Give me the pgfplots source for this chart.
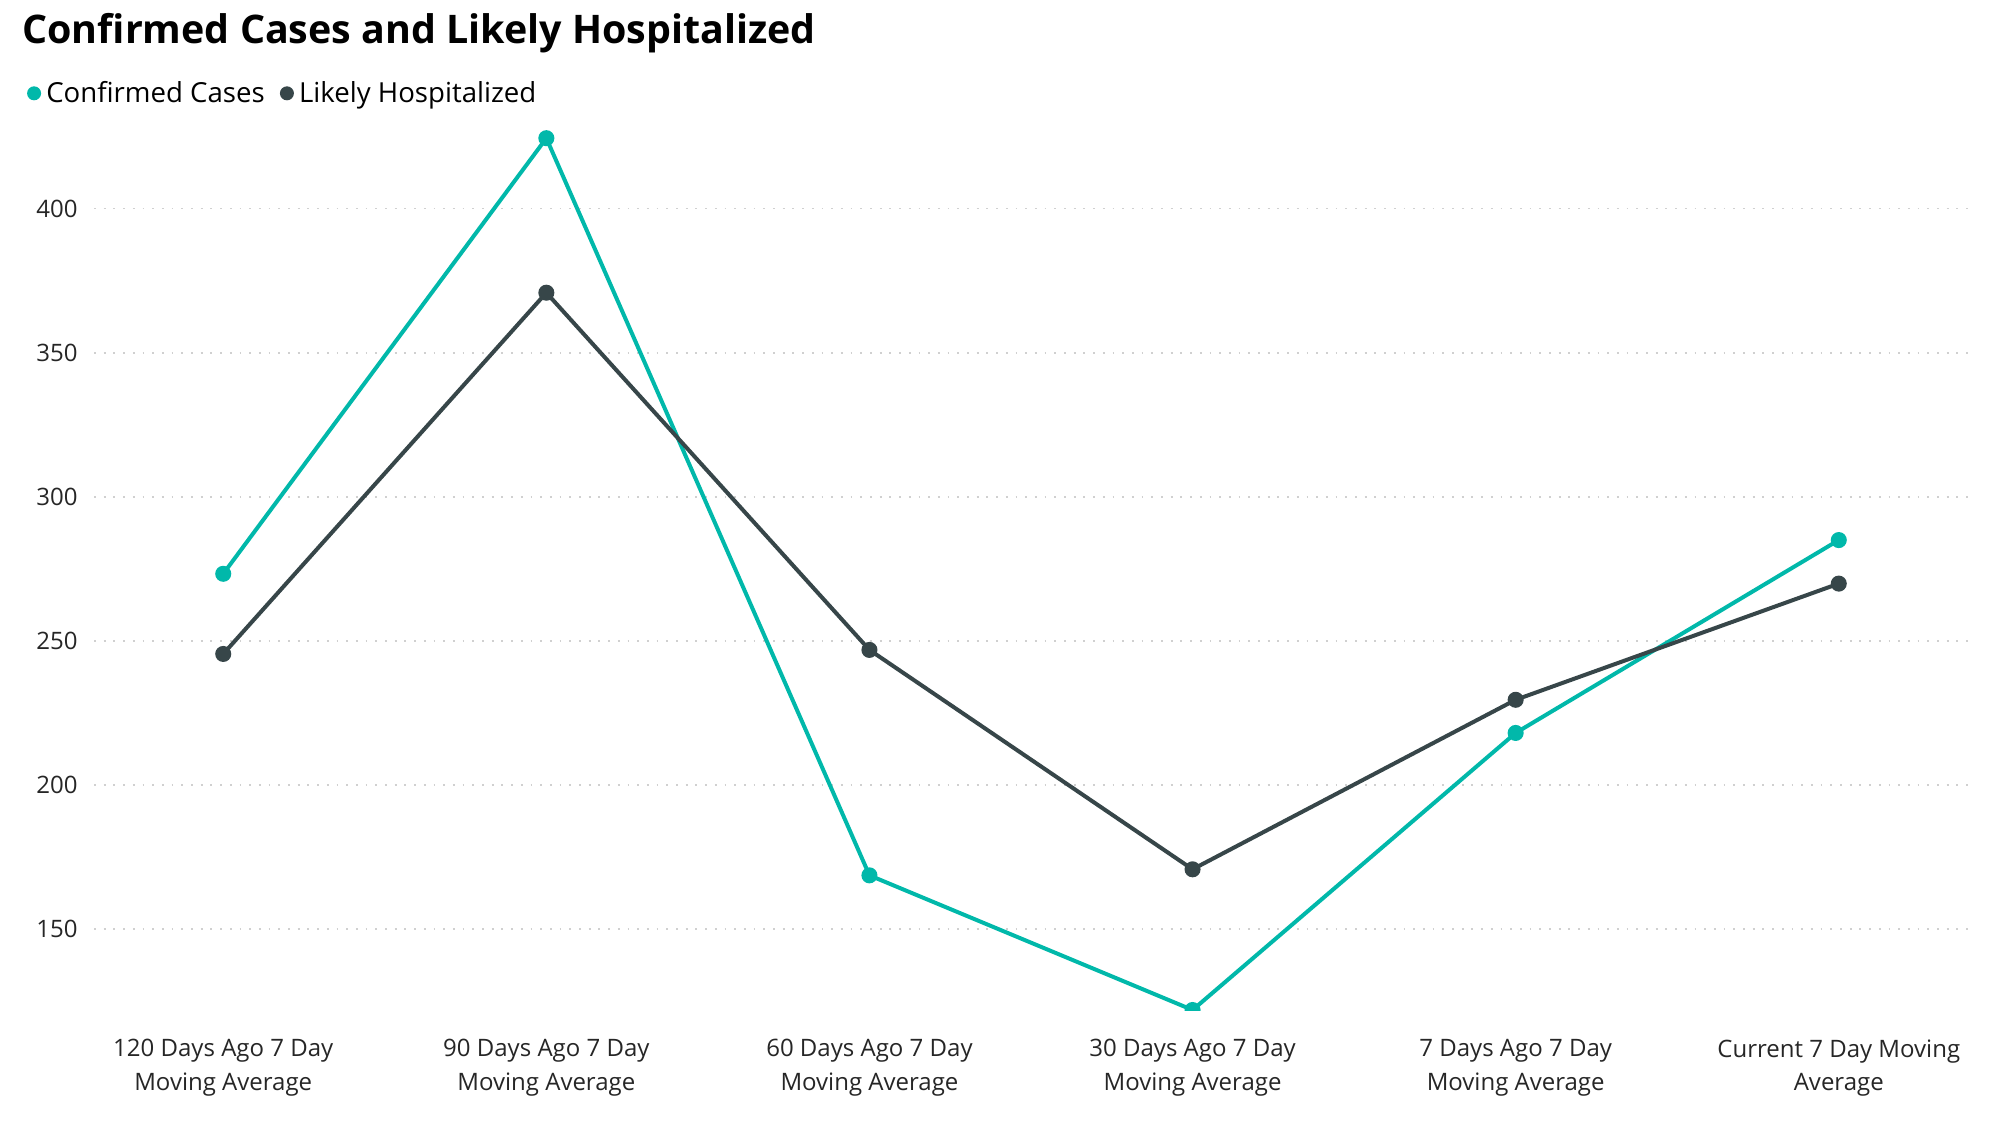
\documentclass[border=0pt]{standalone}
\usepackage{fontspec}
\setmainfont{Open Sans}
\usepackage{pgfplots}
\pgfplotsset{compat=1.18}
\definecolor{cteal}{HTML}{01B8AA}
\definecolor{cdark}{HTML}{374649}
\definecolor{cgrid}{HTML}{D0D0D0}
\begin{document}
\begin{tikzpicture}
\path[use as bounding box] (0pt,0pt) rectangle (1000pt,570.5pt);
\node[anchor=base west, inner sep=0pt, font=\fontsize{19.7}{22}\selectfont\bfseries] at (11pt,548.5pt) {Confirmed Cases and Likely Hospitalized};
\begin{axis}[
  at={(47pt,65.5pt)}, anchor=south west,
  scale only axis, width=937pt, height=439.65pt,
  xmin=-0.4, xmax=5.4, ymin=122, ymax=427,
  xtick={0,1,2,3,4,5},
  xticklabels={{120 Days Ago 7 Day\\Moving Average},{90 Days Ago 7 Day\\Moving Average},{60 Days Ago 7 Day\\Moving Average},{30 Days Ago 7 Day\\Moving Average},{7 Days Ago 7 Day\\Moving Average},{Current 7 Day Moving\\Average}},
  ytick={150,200,250,300,350,400},
  /pgf/number format/assume math mode=true,
  axis line style={draw=none},
  major tick length=0pt,
  tick style={draw=none},
  ymajorgrids,
  grid style={cgrid, line width=0.9pt, dash pattern=on 0.9pt off 3.95pt},
  ticklabel style={font=\fontsize{12}{16.7}\selectfont, text=black!85},
  yticklabel style={inner sep=0pt, anchor=east, xshift=-8pt},
  xticklabel style={align=center, inner sep=0pt, anchor=north, yshift=-14.5pt},
  clip marker paths=true,
  legend columns=2,
  legend style={at={(-0.0357,1.0425)}, anchor=west, draw=none, fill=none, inner sep=0pt, outer sep=0pt,
    font=\fontsize{13.8}{16}\selectfont,
    nodes={inner sep=2.6pt},
    /tikz/every even column/.append style={column sep=5pt}},
  legend cell align=left,
  legend image code/.code={\fill[#1,draw=none] (3.5pt,0pt) circle (3.5pt);},
]
\addplot[color=cteal, line width=2pt, mark=*, mark size=3pt, mark options={solid}] coordinates {
 (0,273.3) (1,424.4) (2,168.7) (3,122.0) (4,218.1) (5,285.0)
};
\addlegendentry{Confirmed Cases}
\addplot[color=cdark, line width=2pt, mark=*, mark size=3pt, mark options={solid}] coordinates {
 (0,245.5) (1,370.8) (2,246.9) (3,170.8) (4,229.6) (5,269.9)
};
\addlegendentry{Likely Hospitalized}
\end{axis}
\end{tikzpicture}
\end{document}
